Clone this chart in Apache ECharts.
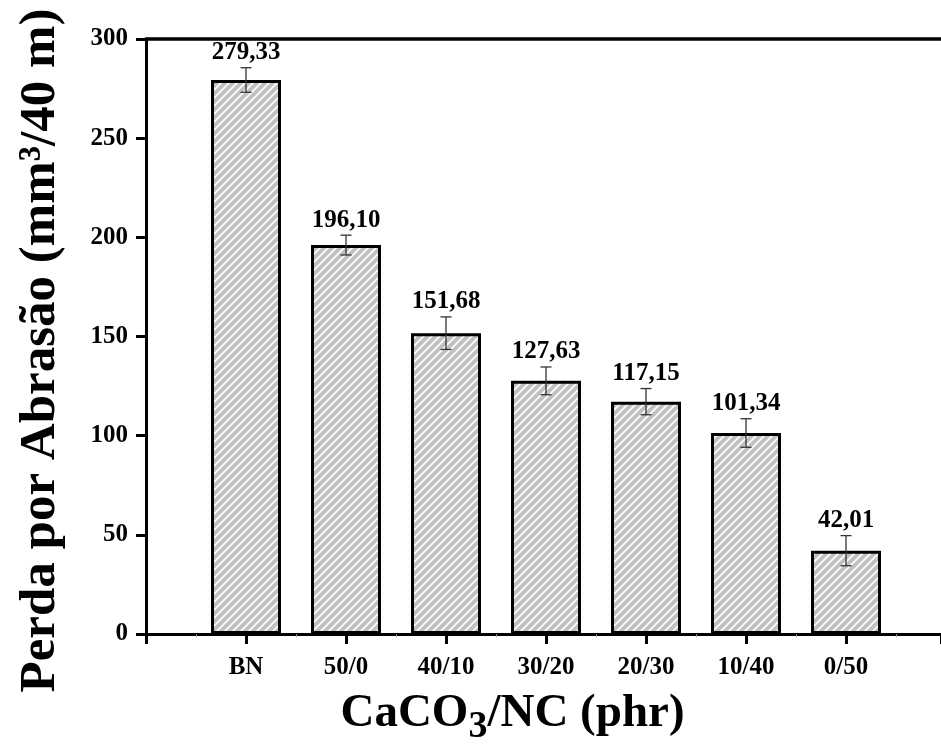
<!DOCTYPE html>
<html>
<head>
<meta charset="utf-8">
<script src="https://cdn.jsdelivr.net/npm/echarts@6/dist/echarts.min.js"></script>
<style>
html,body{margin:0;padding:0;background:#fff;}
#chart{width:941px;height:751px;}
</style>
</head>
<body>
<div id="chart"></div>
<script>
const categories = ['BN', '50/0', '40/10', '30/20', '20/30', '10/40', '0/50'];
const values = [279.33, 196.10, 151.68, 127.63, 117.15, 101.34, 42.01];
const errors = [6.2, 5.0, 8.2, 7.0, 6.6, 7.2, 7.6];
const valueLabels = ['279,33', '196,10', '151,68', '127,63', '117,15', '101,34', '42,01'];
const yMin = 0, yMax = 300, yStep = 50;

const FONT = '"Liberation Serif", "Times New Roman", serif';

// hatch pattern: light gray with white diagonal stripes
const P = 8;
const pat = document.createElement('canvas');
pat.width = P; pat.height = P;
const pc = pat.getContext('2d');
pc.fillStyle = '#c0c0c0';
pc.fillRect(0, 0, P, P);
pc.strokeStyle = '#ffffff';
pc.lineWidth = 1.7;
for (let k = 0; k <= 2; k++) {
  pc.beginPath();
  pc.moveTo(-1, P * k + 1);
  pc.lineTo(P * k + 1, -1);
  pc.stroke();
}

const barData = values.map((v, i) => [i + 1, v]);
const errData = values.map((v, i) => [i + 1, v, errors[i]]);

const chart = echarts.init(document.getElementById('chart'), null, {renderer: 'canvas'});
chart.setOption({
  backgroundColor: '#fff',
  animation: false,
  grid: {left: 146, right: 0, top: 39, bottom: 117},
  xAxis: [{
    type: 'value',
    min: 0, max: 7.95, interval: 1,
    position: 'bottom',
    axisLine: {show: true, onZero: false, lineStyle: {color: '#000', width: 3}},
    axisTick: {show: true, inside: false, length: 10, lineStyle: {color: '#000', width: 3}},
    minorTick: {show: true, splitNumber: 2, length: 3, lineStyle: {color: '#999', width: 1}},
    splitLine: {show: false},
    axisLabel: {
      margin: 21,
      showMaxLabel: false,
      fontFamily: FONT, fontWeight: 'bold', fontSize: 25, color: '#000',
      formatter: v => (v >= 1 && v <= categories.length && Number.isInteger(v)) ? categories[v - 1] : ''
    },
    name: '{a|CaCO}{s|3}{a|/NC (phr)}',
    nameLocation: 'middle',
    nameGap: 56,
    nameTextStyle: {
      padding: [0, 62, 0, 0],
      rich: {
        a: {fontFamily: FONT, fontWeight: 'bold', fontSize: 47, color: '#000', lineHeight: 50, verticalAlign: 'top'},
        s: {fontFamily: FONT, fontWeight: 'bold', fontSize: 38, color: '#000', lineHeight: 38, padding: [18, 0, 0, 0], verticalAlign: 'top'}
      }
    }
  }, {
    type: 'value',
    min: 0, max: 7.95, interval: 1,
    position: 'top',
    axisLine: {show: true, onZero: false, lineStyle: {color: '#000', width: 3.5}},
    axisTick: {show: false},
    axisLabel: {show: false},
    splitLine: {show: false}
  }],
  yAxis: {
    type: 'value',
    min: yMin, max: yMax, interval: yStep,
    axisLine: {show: true, lineStyle: {color: '#000', width: 3}},
    axisTick: {show: true, inside: false, length: 10, lineStyle: {color: '#000', width: 3}},
    splitLine: {show: false},
    axisLabel: {margin: 18, fontFamily: FONT, fontWeight: 'bold', fontSize: 25, color: '#000'},
    name: 'Perda por Abrasão (mm³/40 m)',
    nameLocation: 'middle',
    nameGap: 80,
    nameTextStyle: {fontFamily: FONT, fontWeight: 'bold', fontSize: 51, color: '#000', padding: [0, 28, 0, 0]}
  },
  series: [{
    type: 'bar',
    xAxisIndex: 0,
    data: barData,
    barWidth: 70,
    itemStyle: {
      color: {image: pat, repeat: 'repeat'},
      borderColor: '#000',
      borderWidth: 3
    },
    z: 2
  }, {
    type: 'custom',
    xAxisIndex: 0,
    data: errData,
    z: 5,
    renderItem: function (params, api) {
      const x = api.value(0), v = api.value(1), e = api.value(2);
      const top = api.coord([x, v + e]);
      const bot = api.coord([x, v - e]);
      const hw = 5.5;
      const st = {stroke: '#333', lineWidth: 1.3};
      return {
        type: 'group',
        children: [
          {type: 'line', shape: {x1: top[0], y1: top[1], x2: bot[0], y2: bot[1]}, style: st},
          {type: 'line', shape: {x1: top[0] - hw, y1: top[1], x2: top[0] + hw, y2: top[1]}, style: st},
          {type: 'line', shape: {x1: bot[0] - hw, y1: bot[1], x2: bot[0] + hw, y2: bot[1]}, style: st},
          {type: 'text', style: {
            text: valueLabels[params.dataIndex],
            x: top[0], y: top[1] - 15,
            align: 'center', verticalAlign: 'middle',
            font: 'bold 25px ' + FONT, fill: '#000'
          }}
        ]
      };
    }
  }]
});
</script>
</body>
</html>
